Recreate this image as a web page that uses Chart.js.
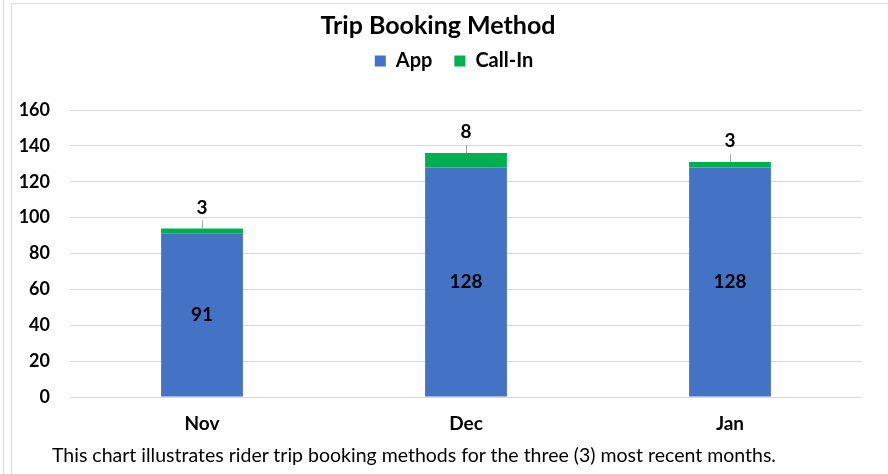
<!DOCTYPE html>
<html>
<head>
<meta charset="utf-8">
<script src="https://cdn.jsdelivr.net/npm/chart.js@4.4.1/dist/chart.umd.min.js"></script>
<style>
  html, body { margin: 0; padding: 0; background: #fff; }
  #wrap { position: relative; width: 888px; height: 474px; overflow: hidden; }
  #chart { position: absolute; left: 0; top: 0; }
  #edge { position: absolute; left: 3px; top: 0; width: 1px; height: 474px; background: #dedede; }
  #frame { position: absolute; left: 11px; top: 3px; right: 0; bottom: 0;
           border-left: 1px solid #dedede; border-top: 1px solid #dedede; pointer-events: none; }
  #caption { position: absolute; left: 52px; top: 443px; font: 19.5px Lato, sans-serif; line-height: 24px; color: #000; white-space: nowrap; }
</style>
</head>
<body>
<div id="wrap">
  <canvas id="chart" width="888" height="474"></canvas>
  <div id="edge"></div>
  <div id="frame"></div>
  <div id="caption">This chart illustrates rider trip booking methods for the three (3) most recent months.</div>
</div>
<script>
var months = ['Nov', 'Dec', 'Jan'];
var appTrips = [91, 128, 128];
var callInTrips = [3, 8, 3];
var yTicks = [0, 20, 40, 60, 80, 100, 120, 140, 160];

// value labels: inside the App segment, above the bar with a leader line for Call-In
var barLabels = {
    id: 'barLabels',
    afterDatasetsDraw: function(chart) {
        var ctx = chart.ctx;
        ctx.save();
        ctx.font = 'bold 19px Lato';
        ctx.fillStyle = '#000';
        ctx.textAlign = 'center';
        ctx.textBaseline = 'middle';
        chart.getDatasetMeta(0).data.forEach(function(bar, i) {
            ctx.fillText(appTrips[i], bar.x, (bar.y + bar.base) / 2);
        });
        chart.getDatasetMeta(1).data.forEach(function(bar, i) {
            ctx.strokeStyle = '#a6a6a6';
            ctx.lineWidth = 1;
            ctx.beginPath();
            ctx.moveTo(bar.x + 0.5, bar.y - 8);
            ctx.lineTo(bar.x + 0.5, bar.y);
            ctx.stroke();
            ctx.fillText(callInTrips[i], bar.x, bar.y - 21);
        });
        ctx.restore();
    }
};

// extra room under the legend, and nudge it a bit to the right
var legendGap = {
    id: 'legendGap',
    beforeInit: function(chart) {
        var fit = chart.legend.fit;
        chart.legend.fit = function() {
            fit.call(this);
            this.height += 29;
        };
    },
    afterLayout: function(chart) {
        chart.legend.left += 16;
        chart.legend.right += 16;
    }
};

function drawChart() {
    var ctx = document.getElementById('chart').getContext('2d');
    new Chart(ctx, {
        type: 'bar',
        data: {
            labels: months,
            datasets: [{
                label: 'App',
                data: appTrips,
                backgroundColor: '#4472C4',
                barPercentage: 0.31,
                categoryPercentage: 1
            }, {
                label: 'Call-In',
                data: callInTrips,
                backgroundColor: '#00B050',
                barPercentage: 0.31,
                categoryPercentage: 1
            }]
        },
        options: {
            responsive: false,
            animation: false,
            layout: { padding: { left: 14, right: 26, top: 0, bottom: 0 } },
            plugins: {
                title: {
                    display: true,
                    text: 'Trip Booking Method',
                    color: '#000',
                    font: { family: 'Lato', size: 25, weight: 'bold', lineHeight: 1 },
                    padding: { top: 13.5, bottom: -9.5 }
                },
                legend: {
                    position: 'top',
                    labels: {
                        boxWidth: 11,
                        boxHeight: 11,
                        padding: 22,
                        color: '#000',
                        font: { family: 'Lato', size: 20, weight: 'bold' }
                    }
                },
                tooltip: { enabled: false }
            },
            scales: {
                x: {
                    stacked: true,
                    grid: { display: false, drawTicks: false },
                    border: { display: false },
                    ticks: {
                        color: '#000',
                        padding: 15,
                        font: { family: 'Lato', size: 19, weight: 'bold' }
                    },
                    afterFit: function(s) { s.height = 77; }
                },
                y: {
                    stacked: true,
                    min: 0,
                    max: 160,
                    afterBuildTicks: function(s) {
                        s.ticks = yTicks.map(function(v) { return { value: v }; });
                    },
                    grid: { color: '#d9d9d9', drawTicks: false },
                    border: { display: false },
                    ticks: {
                        color: '#000',
                        padding: 20,
                        font: { family: 'Lato', size: 18, weight: 'bold' }
                    },
                    afterFit: function(s) { s.width = 56; }
                }
            }
        },
        plugins: [barLabels, legendGap]
    });
}

document.fonts.load('bold 17px Lato').then(drawChart, drawChart);
</script>
</body>
</html>
